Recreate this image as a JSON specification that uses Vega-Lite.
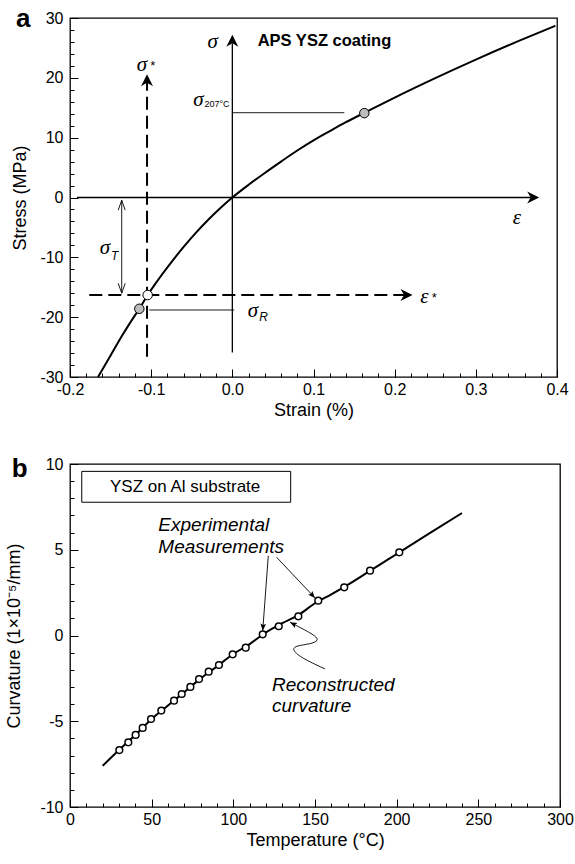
{
  "$schema": "https://vega.github.io/schema/vega-lite/v6.json",
  "padding": {"left": 5, "top": 5, "right": 0, "bottom": 0},
  "spacing": 35,
  "config": {
    "view": {"stroke": "black", "strokeWidth": 1.3},
    "axis": {"domain": false, "grid": false, "tickColor": "black", "tickWidth": 1, "labelColor": "black", "titleColor": "black", "labelFont": "Liberation Sans", "titleFont": "Liberation Sans", "labelFontSize": 16, "titleFontSize": 18, "titleFontWeight": "normal", "labelFlush": false, "labelOverlap": false},
    "text": {"font": "Liberation Sans", "color": "black"}
  },
  "datasets": {
    "curveA": [
      {"strain": -0.1655, "stress": -30}, {"strain": -0.15, "stress": -26.4}, {"strain": -0.135, "stress": -22.9}, {"strain": -0.12, "stress": -19.7}, {"strain": -0.1146, "stress": -18.6}, {"strain": -0.1043, "stress": -16.3}, {"strain": -0.09, "stress": -13.5}, {"strain": -0.075, "stress": -10.8}, {"strain": -0.06, "stress": -8.25}, {"strain": -0.045, "stress": -5.9}, {"strain": -0.03, "stress": -3.75}, {"strain": -0.015, "stress": -1.78}, {"strain": 0, "stress": 0}, {"strain": 0.02, "stress": 2.12}, {"strain": 0.04, "stress": 4.1}, {"strain": 0.06, "stress": 6.0}, {"strain": 0.08, "stress": 7.85}, {"strain": 0.1, "stress": 9.55}, {"strain": 0.12, "stress": 11.1}, {"strain": 0.14, "stress": 12.6}, {"strain": 0.1626, "stress": 14.15}, {"strain": 0.2, "stress": 16.7}, {"strain": 0.25, "stress": 19.95}, {"strain": 0.3, "stress": 23.05}, {"strain": 0.35, "stress": 26.0}, {"strain": 0.398, "stress": 28.7}
    ],
    "axesA": [
      {"strain": 0, "stress": -25.9, "strain2": 0, "stress2": 25.8},
      {"strain": -0.1914, "stress": 0, "strain2": 0.37, "stress2": 0}
    ],
    "thinA": [
      {"strain": 0, "stress": 14.17, "strain2": 0.138, "stress2": 14.17},
      {"strain": -0.1023, "stress": -18.8, "strain2": 0.0024, "stress2": -18.8},
      {"strain": -0.1363, "stress": -0.45, "strain2": -0.1363, "stress2": -16.0}
    ],
    "dashA": [
      {"strain": -0.1051, "stress": -26.6, "strain2": -0.1051, "stress2": 19.4},
      {"strain": -0.1762, "stress": -16.3, "strain2": 0.212, "stress2": -16.3}
    ],
    "upHeadsA": [{"strain": 0, "stress": 27.2}, {"strain": -0.1051, "stress": 20.6}],
    "rightHeadsA": [{"strain": 0.378, "stress": 0}, {"strain": 0.222, "stress": -16.3}],
    "tUp": [{"strain": -0.1363, "stress": -0.45}],
    "tDown": [{"strain": -0.1363, "stress": -16.0}],
    "grayPts": [{"strain": -0.1146, "stress": -18.6}, {"strain": 0.1626, "stress": 14.1}],
    "openPt": [{"strain": -0.1043, "stress": -16.3}],
    "greekA": [
      {"strain": -0.0242, "stress": 26.0, "label": "σ"},
      {"strain": -0.1115, "stress": 22.15, "label": "σ"},
      {"strain": 0.3507, "stress": -3.42, "label": "ε"},
      {"strain": 0.2365, "stress": -16.67, "label": "ε"},
      {"strain": -0.0417, "stress": 16.3, "label": "σ"},
      {"strain": -0.1569, "stress": -8.43, "label": "σ"},
      {"strain": 0.0255, "stress": -18.96, "label": "σ"}
    ],
    "stars": [
      {"strain": -0.0981, "stress": 22.06, "label": "*"},
      {"strain": 0.2488, "stress": -16.87, "label": "*"}
    ],
    "sub207": [{"strain": -0.0343, "stress": 15.7, "label": "207°C"}],
    "subTR": [{"strain": -0.1495, "stress": -9.77, "label": "T"}, {"strain": 0.0332, "stress": -19.96, "label": "R"}],
    "titleA": [{"strain": 0.0312, "stress": 25.3, "label": "APS YSZ coating"}],
    "panelA": [{"strain": -0.2665, "stress": 28.5, "label": "a"}],
    "curveB": [
      {"temp": 20, "curv": -7.6}, {"temp": 30, "curv": -6.68}, {"temp": 40, "curv": -5.8}, {"temp": 50, "curv": -4.87}, {"temp": 60, "curv": -4.08}, {"temp": 70, "curv": -3.3}, {"temp": 80, "curv": -2.5}, {"temp": 90, "curv": -1.8}, {"temp": 100, "curv": -1.08}, {"temp": 110, "curv": -0.5}, {"temp": 120, "curv": 0.18}, {"temp": 130, "curv": 0.72}, {"temp": 140, "curv": 1.2}, {"temp": 150, "curv": 1.88}, {"temp": 160, "curv": 2.4}, {"temp": 170, "curv": 2.95}, {"temp": 180, "curv": 3.55}, {"temp": 190, "curv": 4.15}, {"temp": 200, "curv": 4.75}, {"temp": 220, "curv": 5.95}, {"temp": 240, "curv": 7.14}
    ],
    "measB": [
      {"temp": 30.2, "curv": -6.68}, {"temp": 35.7, "curv": -6.23}, {"temp": 40.2, "curv": -5.8}, {"temp": 44.5, "curv": -5.39}, {"temp": 49.6, "curv": -4.87}, {"temp": 55.9, "curv": -4.38}, {"temp": 63.7, "curv": -3.8}, {"temp": 68.4, "curv": -3.41}, {"temp": 73.7, "curv": -3.0}, {"temp": 79, "curv": -2.54}, {"temp": 84.9, "curv": -2.11}, {"temp": 91.2, "curv": -1.72}, {"temp": 99.6, "curv": -1.1}, {"temp": 107.6, "curv": -0.71}, {"temp": 118, "curv": 0.07}, {"temp": 127.8, "curv": 0.54}, {"temp": 139.8, "curv": 1.12}, {"temp": 152, "curv": 2.03}, {"temp": 167.9, "curv": 2.81}, {"temp": 183.7, "curv": 3.78}, {"temp": 201.6, "curv": 4.85}
    ],
    "arrowsB": [
      {"temp": 121.4, "curv": 4.65, "temp2": 118.0, "curv2": 0.28},
      {"temp": 126.5, "curv": 4.56, "temp2": 150.0, "curv2": 2.19}
    ],
    "wavyB": [
      {"i": 1, "temp": 134.7, "curv": 0.77}, {"i": 2, "temp": 143.9, "curv": 0.32}, {"i": 3, "temp": 150.0, "curv": -0.01}, {"i": 4, "temp": 152.6, "curv": -0.3}, {"i": 5, "temp": 146.9, "curv": -0.5}, {"i": 6, "temp": 138.8, "curv": -0.59}, {"i": 7, "temp": 135.7, "curv": -0.79}, {"i": 8, "temp": 140.8, "curv": -1.27}, {"i": 9, "temp": 156.1, "curv": -1.95}
    ],
    "head1": [{"temp": 118.0, "curv": 0.28}],
    "head2": [{"temp": 150.0, "curv": 2.19}],
    "head3": [{"temp": 134.7, "curv": 0.77}],
    "boxB": [{"temp": 7.2, "curv": 9.57, "temp2": 135.1, "curv2": 7.77}],
    "boxText": [{"temp": 24.5, "curv": 8.66, "label": "YSZ on Al substrate"}],
    "italB": [
      {"temp": 54.1, "curv": 6.11, "label": "Experimental"},
      {"temp": 54.1, "curv": 4.79, "label": "Measurements"},
      {"temp": 123.7, "curv": -3.22, "label": "Reconstructed"},
      {"temp": 123.7, "curv": -4.46, "label": "curvature"}
    ],
    "panelB": [{"temp": -35.7, "curv": 9.24, "label": "b"}]
  },
  "vconcat": [
    {
      "width": 487,
      "height": 359,
      "resolve": {"axis": {"x": "independent", "y": "independent"}},
      "layer": [
        {
          "data": {"name": "curveA"},
          "mark": {"type": "line", "color": "black", "strokeWidth": 2, "interpolate": "monotone"},
          "encoding": {
            "x": {"field": "strain", "type": "quantitative", "scale": {"domain": [-0.2, 0.4], "nice": false, "zero": false},
              "axis": {"orient": "bottom", "title": "Strain (%)", "values": [-0.2, -0.1, 0, 0.1, 0.2, 0.3, 0.4],
                "labelExpr": "datum.value == 0 ? '0.0' : '' + datum.value", "labelOverlap": false,
                "offset": -8, "tickSize": 8, "labelPadding": 4, "titlePadding": 4}},
            "y": {"field": "stress", "type": "quantitative", "scale": {"domain": [-30, 30], "nice": false, "zero": false},
              "axis": {"orient": "left", "title": "Stress (MPa)", "values": [-30, -20, -10, 0, 10, 20, 30],
                "labelExpr": "'' + datum.value", "labelOverlap": false,
                "offset": -8, "tickSize": 8, "labelPadding": 7, "titlePadding": 10}}
          }
        },
        {
          "data": {"name": "axesA"},
          "mark": {"type": "rule", "color": "black", "strokeWidth": 1.3},
          "encoding": {
            "x": {"field": "strain", "type": "quantitative", "axis": {"orient": "bottom", "title": null, "labels": false, "values": [-0.18, -0.16, -0.14, -0.12, -0.08, -0.06, -0.04, -0.02, 0.02, 0.04, 0.06, 0.08, 0.12, 0.14, 0.16, 0.18, 0.22, 0.24, 0.26, 0.28, 0.32, 0.34, 0.36, 0.38], "offset": -4, "tickSize": 4}},
            "y": {"field": "stress", "type": "quantitative", "axis": {"orient": "left", "title": null, "labels": false, "values": [-28, -26, -24, -22, -18, -16, -14, -12, -8, -6, -4, -2, 2, 4, 6, 8, 12, 14, 16, 18, 22, 24, 26, 28], "offset": -4, "tickSize": 4}},
            "x2": {"field": "strain2"}, "y2": {"field": "stress2"}}
        },
        {
          "data": {"name": "thinA"},
          "mark": {"type": "rule", "color": "black", "strokeWidth": 0.9},
          "encoding": {"x": {"field": "strain", "type": "quantitative", "axis": null}, "y": {"field": "stress", "type": "quantitative", "axis": null}, "x2": {"field": "strain2"}, "y2": {"field": "stress2"}}
        },
        {
          "data": {"name": "dashA"},
          "mark": {"type": "rule", "color": "black", "strokeWidth": 2, "strokeDash": [13, 6]},
          "encoding": {"x": {"field": "strain", "type": "quantitative", "axis": null}, "y": {"field": "stress", "type": "quantitative", "axis": null}, "x2": {"field": "strain2"}, "y2": {"field": "stress2"}}
        },
        {
          "data": {"name": "upHeadsA"},
          "mark": {"type": "point", "shape": "M0,0 L-1,-0.5 L-0.7,0 L-1,0.5 Z", "filled": true, "color": "black", "opacity": 1, "size": 576, "angle": 270},
          "encoding": {"x": {"field": "strain", "type": "quantitative", "axis": null}, "y": {"field": "stress", "type": "quantitative", "axis": null}}
        },
        {
          "data": {"name": "rightHeadsA"},
          "mark": {"type": "point", "shape": "M0,0 L-1,-0.5 L-0.7,0 L-1,0.5 Z", "filled": true, "color": "black", "opacity": 1, "size": 576, "angle": 0},
          "encoding": {"x": {"field": "strain", "type": "quantitative", "axis": null}, "y": {"field": "stress", "type": "quantitative", "axis": null}}
        },
        {
          "data": {"name": "tUp"},
          "mark": {"type": "point", "shape": "M-1,-0.35 L0,0 L-1,0.35", "filled": false, "color": "black", "opacity": 1, "strokeWidth": 0.9, "size": 400, "angle": 270},
          "encoding": {"x": {"field": "strain", "type": "quantitative", "axis": null}, "y": {"field": "stress", "type": "quantitative", "axis": null}}
        },
        {
          "data": {"name": "tDown"},
          "mark": {"type": "point", "shape": "M-1,-0.35 L0,0 L-1,0.35", "filled": false, "color": "black", "opacity": 1, "strokeWidth": 0.9, "size": 400, "angle": 90},
          "encoding": {"x": {"field": "strain", "type": "quantitative", "axis": null}, "y": {"field": "stress", "type": "quantitative", "axis": null}}
        },
        {
          "data": {"name": "grayPts"},
          "mark": {"type": "point", "shape": "circle", "filled": true, "fill": "#bdbdbd", "stroke": "black", "strokeWidth": 1, "opacity": 1, "size": 90},
          "encoding": {"x": {"field": "strain", "type": "quantitative", "axis": null}, "y": {"field": "stress", "type": "quantitative", "axis": null}}
        },
        {
          "data": {"name": "openPt"},
          "mark": {"type": "point", "shape": "circle", "filled": true, "fill": "white", "stroke": "black", "strokeWidth": 1, "opacity": 1, "size": 90},
          "encoding": {"x": {"field": "strain", "type": "quantitative", "axis": null}, "y": {"field": "stress", "type": "quantitative", "axis": null}}
        },
        {
          "data": {"name": "greekA"},
          "mark": {"type": "text", "font": "Liberation Serif", "fontStyle": "italic", "fontSize": 21, "align": "center", "baseline": "middle"},
          "encoding": {"x": {"field": "strain", "type": "quantitative", "axis": null}, "y": {"field": "stress", "type": "quantitative", "axis": null}, "text": {"field": "label"}}
        },
        {
          "data": {"name": "stars"},
          "mark": {"type": "text", "fontSize": 13, "align": "center", "baseline": "middle"},
          "encoding": {"x": {"field": "strain", "type": "quantitative", "axis": null}, "y": {"field": "stress", "type": "quantitative", "axis": null}, "text": {"field": "label"}}
        },
        {
          "data": {"name": "sub207"},
          "mark": {"type": "text", "fontSize": 9, "align": "left", "baseline": "middle"},
          "encoding": {"x": {"field": "strain", "type": "quantitative", "axis": null}, "y": {"field": "stress", "type": "quantitative", "axis": null}, "text": {"field": "label"}}
        },
        {
          "data": {"name": "subTR"},
          "mark": {"type": "text", "fontSize": 12, "fontStyle": "italic", "align": "left", "baseline": "middle"},
          "encoding": {"x": {"field": "strain", "type": "quantitative", "axis": null}, "y": {"field": "stress", "type": "quantitative", "axis": null}, "text": {"field": "label"}}
        },
        {
          "data": {"name": "titleA"},
          "mark": {"type": "text", "fontSize": 16.5, "fontWeight": "bold", "align": "left", "baseline": "alphabetic"},
          "encoding": {"x": {"field": "strain", "type": "quantitative", "axis": null}, "y": {"field": "stress", "type": "quantitative", "axis": null}, "text": {"field": "label"}}
        },
        {
          "data": {"name": "panelA"},
          "mark": {"type": "text", "fontSize": 26, "fontWeight": "bold", "align": "left", "baseline": "alphabetic"},
          "encoding": {"x": {"field": "strain", "type": "quantitative", "axis": null}, "y": {"field": "stress", "type": "quantitative", "axis": null}, "text": {"field": "label"}}
        }
      ]
    },
    {
      "width": 490,
      "height": 343,
      "resolve": {"axis": {"x": "independent", "y": "independent"}},
      "layer": [
        {
          "data": {"name": "boxB"},
          "mark": {"type": "rect", "fill": "white", "stroke": "black", "strokeWidth": 1},
          "encoding": {
            "x": {"field": "temp", "type": "quantitative", "scale": {"domain": [0, 300], "nice": false, "zero": false},
              "axis": {"orient": "bottom", "title": "Temperature (°C)", "values": [0, 50, 100, 150, 200, 250, 300],
                "labelExpr": "'' + datum.value", "labelOverlap": false,
                "offset": -8, "tickSize": 8, "labelPadding": 4, "titlePadding": 4}},
            "y": {"field": "curv", "type": "quantitative", "scale": {"domain": [-10, 10], "nice": false, "zero": false},
              "axis": {"orient": "left", "title": "Curvature (1×10⁻⁵/mm)", "values": [-10, -5, 0, 5, 10],
                "labelExpr": "'' + datum.value", "labelOverlap": false,
                "offset": -8, "tickSize": 8, "labelPadding": 7, "titlePadding": 16}},
            "x2": {"field": "temp2"},
            "y2": {"field": "curv2"}
          }
        },
        {
          "data": {"name": "curveB"},
          "mark": {"type": "line", "color": "black", "strokeWidth": 2, "interpolate": "monotone"},
          "encoding": {
            "x": {"field": "temp", "type": "quantitative", "axis": {"orient": "bottom", "title": null, "labels": false, "values": [10, 20, 30, 40, 60, 70, 80, 90, 110, 120, 130, 140, 160, 170, 180, 190, 210, 220, 230, 240, 260, 270, 280, 290], "offset": -4, "tickSize": 4}},
            "y": {"field": "curv", "type": "quantitative", "axis": {"orient": "left", "title": null, "labels": false, "values": [-9, -8, -7, -6, -4, -3, -2, -1, 1, 2, 3, 4, 6, 7, 8, 9], "offset": -4, "tickSize": 4}}
          }
        },
        {
          "data": {"name": "boxText"},
          "mark": {"type": "text", "fontSize": 17, "align": "left", "baseline": "middle"},
          "encoding": {"x": {"field": "temp", "type": "quantitative", "axis": null}, "y": {"field": "curv", "type": "quantitative", "axis": null}, "text": {"field": "label"}}
        },
        {
          "data": {"name": "measB"},
          "mark": {"type": "point", "shape": "circle", "filled": true, "fill": "white", "stroke": "black", "strokeWidth": 1.5, "opacity": 1, "size": 45},
          "encoding": {"x": {"field": "temp", "type": "quantitative", "axis": null}, "y": {"field": "curv", "type": "quantitative", "axis": null}}
        },
        {
          "data": {"name": "arrowsB"},
          "mark": {"type": "rule", "color": "black", "strokeWidth": 0.9},
          "encoding": {"x": {"field": "temp", "type": "quantitative", "axis": null}, "y": {"field": "curv", "type": "quantitative", "axis": null}, "x2": {"field": "temp2"}, "y2": {"field": "curv2"}}
        },
        {
          "data": {"name": "wavyB"},
          "mark": {"type": "line", "color": "black", "strokeWidth": 0.9, "interpolate": "basis"},
          "encoding": {"x": {"field": "temp", "type": "quantitative", "axis": null}, "y": {"field": "curv", "type": "quantitative", "axis": null}, "order": {"field": "i", "type": "quantitative"}}
        },
        {
          "data": {"name": "head1"},
          "mark": {"type": "point", "shape": "M0,0 L-1,-0.4 L-0.8,0 L-1,0.4 Z", "filled": true, "color": "black", "opacity": 1, "size": 196, "angle": 94},
          "encoding": {"x": {"field": "temp", "type": "quantitative", "axis": null}, "y": {"field": "curv", "type": "quantitative", "axis": null}}
        },
        {
          "data": {"name": "head2"},
          "mark": {"type": "point", "shape": "M0,0 L-1,-0.4 L-0.8,0 L-1,0.4 Z", "filled": true, "color": "black", "opacity": 1, "size": 196, "angle": 47},
          "encoding": {"x": {"field": "temp", "type": "quantitative", "axis": null}, "y": {"field": "curv", "type": "quantitative", "axis": null}}
        },
        {
          "data": {"name": "head3"},
          "mark": {"type": "point", "shape": "M0,0 L-1,-0.4 L-0.8,0 L-1,0.4 Z", "filled": true, "color": "black", "opacity": 1, "size": 196, "angle": 207},
          "encoding": {"x": {"field": "temp", "type": "quantitative", "axis": null}, "y": {"field": "curv", "type": "quantitative", "axis": null}}
        },
        {
          "data": {"name": "italB"},
          "mark": {"type": "text", "fontSize": 19, "fontStyle": "italic", "align": "left", "baseline": "alphabetic"},
          "encoding": {"x": {"field": "temp", "type": "quantitative", "axis": null}, "y": {"field": "curv", "type": "quantitative", "axis": null}, "text": {"field": "label"}}
        },
        {
          "data": {"name": "panelB"},
          "mark": {"type": "text", "fontSize": 26, "fontWeight": "bold", "align": "left", "baseline": "alphabetic"},
          "encoding": {"x": {"field": "temp", "type": "quantitative", "axis": null}, "y": {"field": "curv", "type": "quantitative", "axis": null}, "text": {"field": "label"}}
        }
      ]
    }
  ]
}
